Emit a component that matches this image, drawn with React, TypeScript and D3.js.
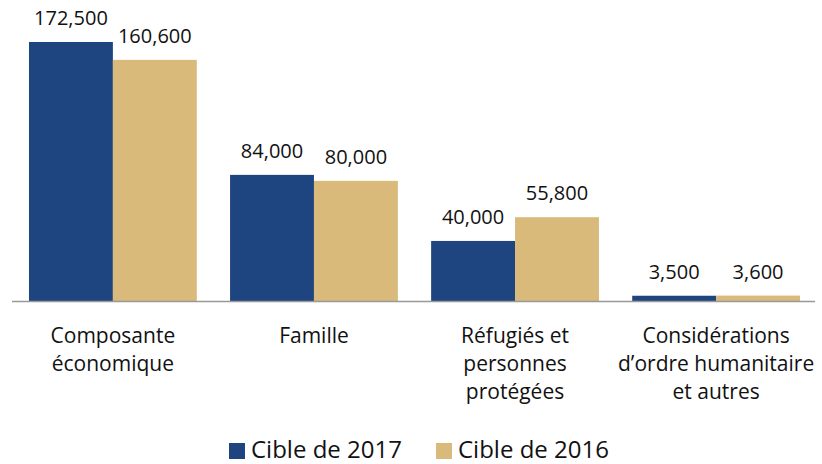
import React from "react";
import * as d3 from "d3";

const categories: string[][] = [
  ["Composante", "économique"],
  ["Famille"],
  ["Réfugiés et", "personnes", "protégées"],
  ["Considérations", "d’ordre humanitaire", "et autres"],
];
const seriesNames = ["Cible de 2017", "Cible de 2016"];
const values2017 = [172500, 84000, 40000, 3500];
const values2016 = [160600, 80000, 55800, 3600];
const colors = ["#1F4580", "#D9BA7A"];

const W = 822;
const H = 464;
const FONT = "'Open Sans', 'Noto Sans', sans-serif";

export default function App() {
  const x0 = d3.scaleBand<number>().domain(d3.range(categories.length)).range([14, 815]).paddingInner(0.1654).paddingOuter(0.0745);
  const x1 = d3.scaleBand<number>().domain([0, 1]).range([0, x0.bandwidth()]);
  const y = d3.scaleLinear().domain([0, 172500]).range([301, 42]);
  const fmt = d3.format(",");
  const series = [values2017, values2016];

  return (
    <svg width={W} height={H} style={{ position: "absolute", left: 0, top: 0 }} fontFamily={FONT}>
      {categories.map((_, i) =>
        series.map((vals, s) => {
          const bx = (x0(i) as number) + (x1(s) as number);
          return (
            <g key={`${i}-${s}`}>
              <rect x={bx} y={y(vals[i])} width={x1.bandwidth()} height={y(0) - y(vals[i])} fill={colors[s]} />
              <text x={bx + x1.bandwidth() / 2} y={y(vals[i]) - 17} textAnchor="middle" fontSize={20} fill="#111">
                {fmt(vals[i])}
              </text>
            </g>
          );
        })
      )}
      <line x1={12} x2={815} y1={y(0) + 0.5} y2={y(0) + 0.5} stroke="#999" strokeWidth={1.5} />
      {categories.map((lines, i) => (
        <text key={i} textAnchor="middle" fontSize={21} fill="#111">
          {lines.map((l, j) => (
            <tspan key={j} x={(x0(i) as number) + x0.bandwidth() / 2} y={343 + j * 28}>
              {l}
            </tspan>
          ))}
        </text>
      ))}
      {seriesNames.map((n, s) => {
        const lx = s === 0 ? 229 : 436;
        return (
          <g key={n}>
            <rect x={lx} y={443} width={16} height={16} fill={colors[s]} />
            <text x={lx + 22} y={458} fontSize={24} fill="#111">
              {n}
            </text>
          </g>
        );
      })}
    </svg>
  );
}
